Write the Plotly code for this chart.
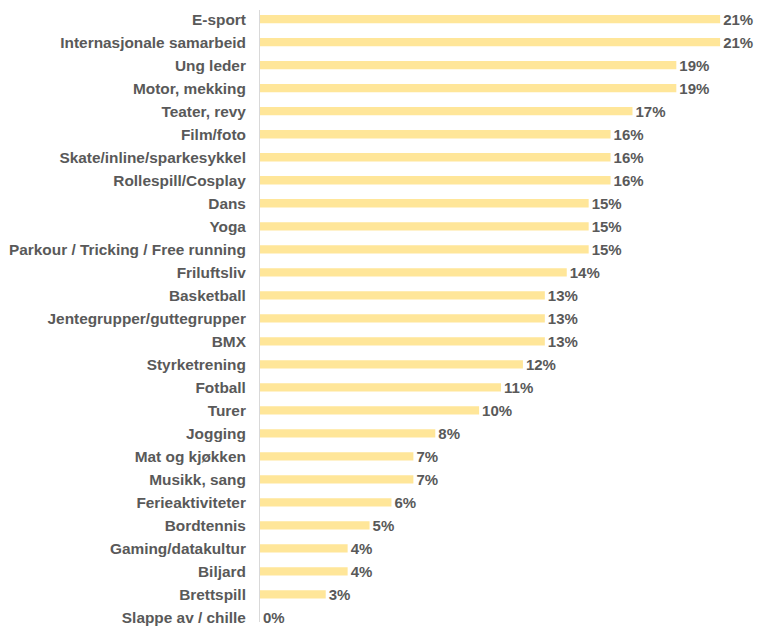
import plotly.graph_objects as go

categories = ["E-sport", "Internasjonale samarbeid", "Ung leder", "Motor, mekking", "Teater, revy",
              "Film/foto", "Skate/inline/sparkesykkel", "Rollespill/Cosplay", "Dans", "Yoga",
              "Parkour / Tricking / Free running", "Friluftsliv", "Basketball",
              "Jentegrupper/guttegrupper", "BMX", "Styrketrening", "Fotball", "Turer", "Jogging",
              "Mat og kjøkken", "Musikk, sang", "Ferieaktiviteter", "Bordtennis",
              "Gaming/datakultur", "Biljard", "Brettspill", "Slappe av / chille"]
values = [21, 21, 19, 19, 17, 16, 16, 16, 15, 15, 15, 14, 13, 13, 13, 12, 11, 10, 8, 7, 7, 6, 5, 4, 4, 3, 0]
labels = [f"{v}%" for v in values]

fig = go.Figure(go.Bar(
    x=values, y=categories, orientation="h",
    marker=dict(color="#FFE699", line=dict(width=0)),
    text=labels, textposition="outside", cliponaxis=False, constraintext="none",
    textfont=dict(family="Liberation Sans, Arial", size=15, color="#595959", weight="bold"),
    width=0.36,
))

fig.update_layout(
    width=754, height=619,
    margin=dict(l=250, r=9, t=2, b=1),
    plot_bgcolor="white", paper_bgcolor="white",
    showlegend=False,
    font=dict(family="Liberation Sans, Arial", size=15, color="#595959"),
    xaxis=dict(range=[0, 22.5], showgrid=False, showticklabels=False, zeroline=False, showline=False),
    yaxis=dict(categoryorder="array", categoryarray=categories, range=[26.2, -0.4],
               showgrid=False, showline=True, linecolor="#d9d9d9", linewidth=1,
               ticks="", ticklabelstandoff=10,
               tickfont=dict(family="Liberation Sans, Arial", size=15.4, color="#595959", weight="bold")),
)

fig.write_html("out.html")
